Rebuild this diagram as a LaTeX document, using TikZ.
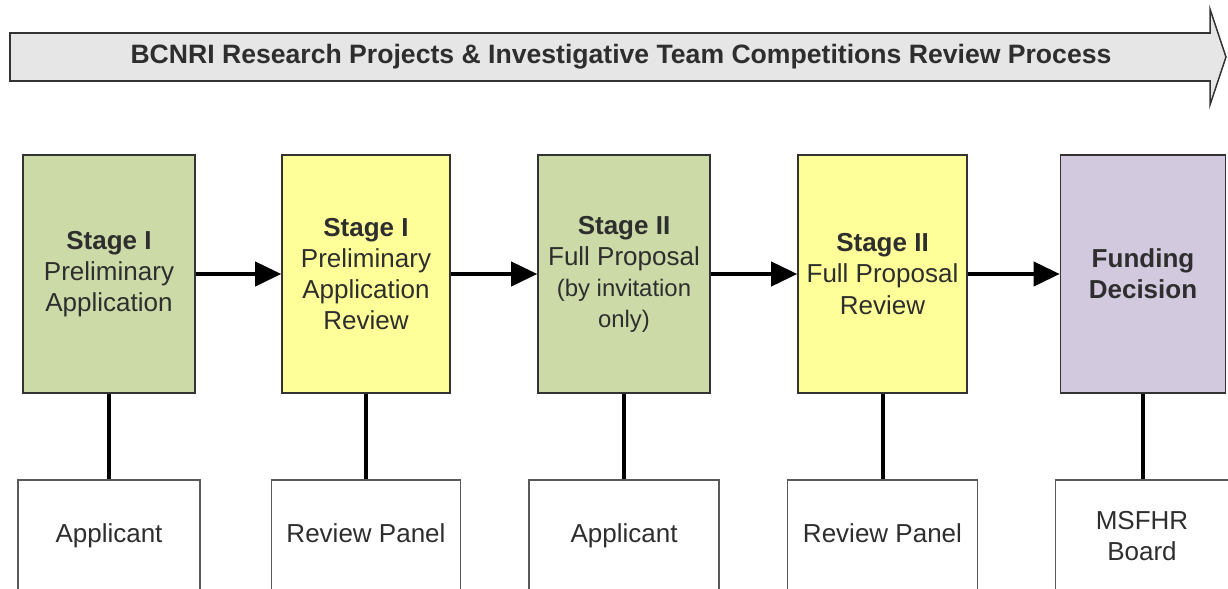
\documentclass[tikz,border=0pt]{standalone}
\usepackage{fontspec}
\setmainfont{Liberation Sans}
\usetikzlibrary{arrows.meta}
\definecolor{stgreen}{HTML}{CCDAA8}
\definecolor{styellow}{HTML}{FFFF99}
\definecolor{stpurple}{HTML}{D3C9DF}
\definecolor{bannergray}{HTML}{E6E6E6}
\definecolor{txt}{HTML}{2E2E2E}
\tikzset{
  stagebox/.style={draw=black!80, line width=1.3pt, minimum height=7.14cm, align=center, inner sep=0pt, text=txt,
    font=\fontsize{22.2}{26.5}\selectfont},
  rolebox/.style={draw=black!65, line width=1.3pt, fill=white, minimum height=3.36cm, align=center, inner sep=0pt, text=txt,
    font=\fontsize{22.2}{26.5}\selectfont},
  oneline/.style={text height=16pt, text depth=4.7pt},
  flow/.style={line width=3.4pt, -{Triangle[length=0.78cm,width=0.72cm]}},
  link/.style={line width=3.4pt},
}
\begin{document}
\begin{tikzpicture}[x=0.03cm,y=-0.03cm]
\clip (0,0) rectangle (1228,589);
% banner
\draw[fill=bannergray, draw=black!80, line width=1.3pt] (10,33) -- (1210,33) -- (1210,9) -- (1226,57) -- (1210,105) -- (1210,81) -- (10,81) -- cycle;
\node[font=\bfseries\fontsize{22.7}{26}\selectfont, text=txt] (title) at (621,57) {BCNRI Research Projects \& Investigative Team Competitions Review Process};
% stage boxes
\node[stagebox, fill=stgreen, minimum width=5.16cm] (s1) at (109,274) {\textbf{Stage I}\\Preliminary\\Application};
\node[stagebox, fill=styellow, minimum width=5.04cm] (s2) at (366,274) {\textbf{Stage I}\\Preliminary\\Application\\Review};
\node[stagebox, fill=stgreen, minimum width=5.16cm] (s3) at (624,274) {\textbf{Stage II}\\Full Proposal\\{\fontsize{20.4}{24.5}\selectfont (by invitation}\\{\fontsize{20.4}{24.5}\selectfont only)}};
\node[stagebox, fill=styellow, minimum width=5.07cm] (s4) at (882.5,274) {\textbf{Stage II}\\Full Proposal\\Review};
\node[stagebox, fill=stpurple, minimum width=4.95cm] (s5) at (1143,274) {\textbf{Funding}\\\textbf{Decision}};
% role boxes
\node[rolebox, oneline, minimum width=5.46cm] (r1) at (109,536) {Applicant};
\node[rolebox, oneline, minimum width=5.67cm] (r2) at (366,536) {Review Panel};
\node[rolebox, oneline, minimum width=5.7cm] (r3) at (624,536) {Applicant};
\node[rolebox, oneline, minimum width=5.7cm] (r4) at (882.5,536) {Review Panel};
\node[rolebox, minimum width=5.19cm] (r5) at (1142,536) {MSFHR\\Board};
% flow arrows
\draw[flow] (s1) -- (s2);
\draw[flow] (s2) -- (s3);
\draw[flow] (s3) -- (s4);
\draw[flow] (s4) -- (s5);
% links
\draw[link] (s1.south) -- (s1.south |- r1.north);
\draw[link] (s2.south) -- (s2.south |- r2.north);
\draw[link] (s3.south) -- (s3.south |- r3.north);
\draw[link] (s4.south) -- (s4.south |- r4.north);
\draw[link] (s5.south) -- (s5.south |- r5.north);
\end{tikzpicture}
\end{document}
